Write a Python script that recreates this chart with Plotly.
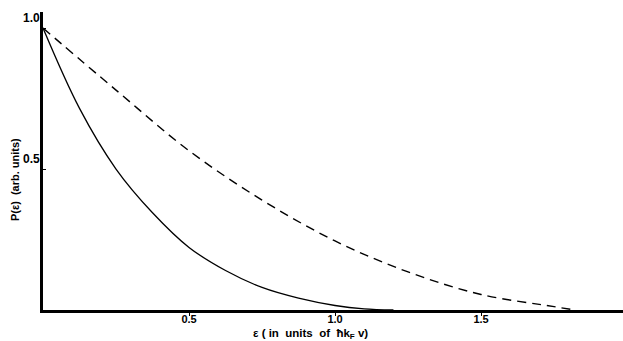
import plotly.graph_objects as go

# Data
dashed_x = [0.0, 0.25, 0.5, 0.75, 1.0, 1.25, 1.5, 1.75, 1.82]
dashed_y = [1.0, 0.78, 0.565, 0.39, 0.245, 0.135, 0.055, 0.012, 0.0]

solid_x = [0.0, 0.125, 0.25, 0.375, 0.5, 0.625, 0.75, 0.875, 1.0, 1.1, 1.2]
solid_y = [1.0, 0.715, 0.50, 0.345, 0.222, 0.14, 0.08, 0.042, 0.016, 0.004, 0.0]

x_ticks = [0.5, 1.0, 1.5]
x_tick_labels = ["0.5", "1.0", "1.5"]
y_ticks = [0.5, 1.0]
y_tick_labels = ["0.5", "1.0"]

x_title = "ε ( in  units  of  ħk<sub>F</sub> v)"
y_title = "P(ε)  (arb. units)"

FONT = "Liberation Sans, Arial, sans-serif"
TF = dict(family=FONT, size=12, color="black", weight="bold")
XTF = dict(family=FONT, size=11, color="black", weight="bold")

fig = go.Figure()
fig.add_trace(go.Scatter(x=dashed_x, y=dashed_y, mode="lines",
                         line=dict(color="black", width=1.4, dash="9px,6px", shape="spline"),
                         showlegend=False))
fig.add_trace(go.Scatter(x=solid_x, y=solid_y, mode="lines",
                         line=dict(color="black", width=1.3, shape="spline"),
                         showlegend=False))

fig.update_xaxes(range=[0, 1.986], showgrid=False, zeroline=False, automargin=False,
                 showline=True, linecolor="black", linewidth=2.5,
                 tickvals=x_ticks, ticktext=x_tick_labels,
                 ticks="outside", ticklen=3, tickwidth=1, tickcolor="black",
                 ticklabelstandoff=-6, tickfont=XTF)
fig.update_yaxes(range=[0, 1.057], showgrid=False, zeroline=False, automargin=False,
                 showline=True, linecolor="black", linewidth=3,
                 tickvals=y_ticks, ticks="inside", ticklen=3, tickwidth=1,
                 tickcolor="black", showticklabels=False)

for v, t in zip(y_ticks, y_tick_labels):
    fig.add_annotation(x=0, xref="paper", y=v, yref="y", text=t, showarrow=False,
                       xanchor="right", yanchor="middle", xshift=-1, yshift=10,
                       font=TF)

fig.add_annotation(x=0.462, xref="paper", y=-0.079, yref="paper", text=x_title,
                   showarrow=False, xanchor="center", yanchor="middle",
                   font=dict(family=FONT, size=11.5, color="black", weight="bold"))
fig.add_annotation(x=0, xref="paper", xshift=-28, y=0.436, yref="paper", text=y_title,
                   showarrow=False, xanchor="center", yanchor="middle", textangle=-90,
                   font=dict(family=FONT, size=11, color="black", weight="bold"))

fig.update_layout(width=623, height=341, margin=dict(l=43, r=0, t=12, b=31),
                  paper_bgcolor="white", plot_bgcolor="white")

fig.write_html("out.html", config={"displayModeBar": False},
               post_script="document.body.style.margin='0';document.body.style.overflow='hidden';")
